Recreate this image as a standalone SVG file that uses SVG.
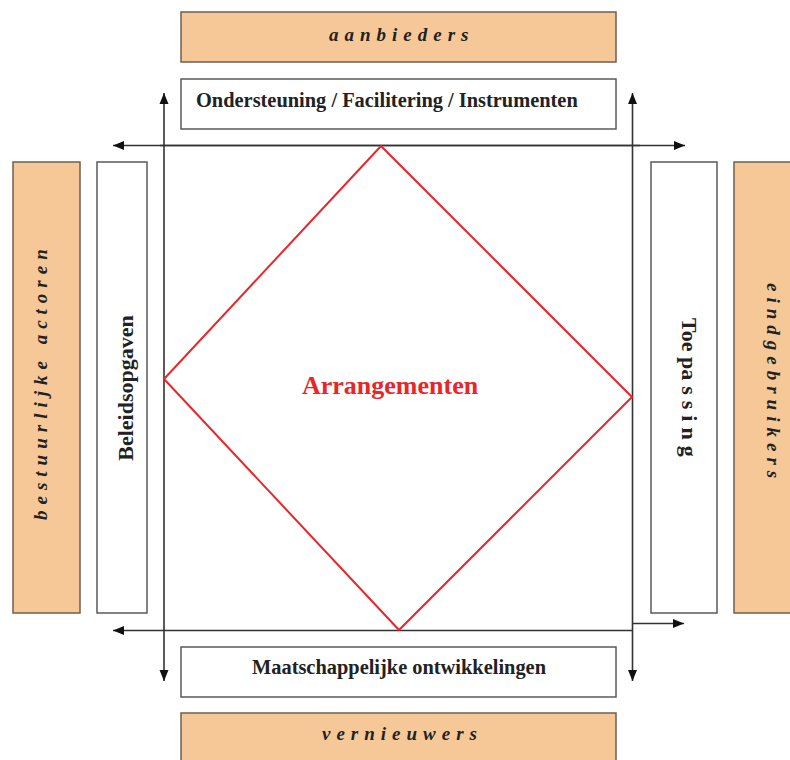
<svg xmlns="http://www.w3.org/2000/svg" width="790" height="760" viewBox="0 0 790 760">
<style>
.org{fill:#f7c897;stroke:#6e5f50;stroke-width:1.5}
.wht{fill:#ffffff;stroke:#5a5a5a;stroke-width:1.5}
.lbl{font-family:"Liberation Serif","Times New Roman",serif;font-weight:bold;font-style:italic;font-size:19px;letter-spacing:6px;fill:#222}
.box{font-family:"Liberation Serif","Times New Roman",serif;font-weight:bold;font-size:20.4px;fill:#222}
.vbox{font-family:"Liberation Serif","Times New Roman",serif;font-weight:bold;font-size:22px;fill:#222}
.ln{fill:none;stroke:#333;stroke-width:1.6}
.dia{fill:none;stroke:#e8262a;stroke-width:2}
.red{font-family:"Liberation Serif","Times New Roman",serif;font-weight:bold;font-size:26px;fill:#e8262a}
</style>
<defs>
<marker id="ah" markerWidth="12" markerHeight="10" refX="11" refY="5" orient="auto" markerUnits="userSpaceOnUse">
<path d="M0,0.5 L11,5 L0,9.5 Z" fill="#111"/>
</marker>
</defs>
<rect width="790" height="760" fill="#ffffff"/>
<g id="aanbieders">
<rect class="org" x="181" y="12" width="435" height="50"/>
<text class="lbl" x="329" y="41">aanbieders</text>
</g>
<g id="ondersteuning">
<rect class="wht" x="181" y="79" width="435" height="50"/>
<text class="box" x="196" y="107">Ondersteuning / Facilitering / Instrumenten</text>
</g>
<g id="maatschappelijke">
<rect class="wht" x="181" y="647" width="435" height="50"/>
<text class="box" x="252" y="674">Maatschappelijke ontwikkelingen</text>
</g>
<g id="vernieuwers">
<rect class="org" x="181" y="713" width="435" height="62"/>
<text class="lbl" x="322" y="740">vernieuwers</text>
</g>
<g id="bestuurlijke">
<rect class="org" x="13" y="162" width="67" height="451"/>
<text class="lbl" transform="translate(47,520) rotate(-90)" x="0" y="0">bestuurlijke actoren</text>
</g>
<g id="beleidsopgaven">
<rect class="wht" x="97" y="162" width="50" height="451"/>
<text class="vbox" text-anchor="middle" transform="translate(133,388) rotate(-90)" x="0" y="0">Beleidsopgaven</text>
</g>
<g id="toepassing">
<rect class="wht" x="651" y="162" width="66" height="451"/>
<text class="vbox" transform="translate(682,318) rotate(90)" x="0" y="0">Toe p<tspan letter-spacing="6">assing</tspan></text>
</g>
<g id="eindgebruikers">
<rect class="org" x="734" y="162" width="70" height="451"/>
<text class="lbl" transform="translate(767,283) rotate(90)" x="0" y="0" letter-spacing="7">eindgebruikers</text>
</g>
<g id="connectors">
<line class="ln" x1="160" y1="145.5" x2="685" y2="145.5" marker-end="url(#ah)"/>
<line class="ln" x1="640" y1="145.5" x2="113" y2="145.5" marker-end="url(#ah)"/>
<line class="ln" x1="632.5" y1="630.5" x2="113" y2="630.5" marker-end="url(#ah)"/>
<line class="ln" x1="632.5" y1="623.5" x2="684" y2="623.5" marker-end="url(#ah)"/>
<line class="ln" x1="164" y1="380" x2="164" y2="93" marker-end="url(#ah)"/>
<line class="ln" x1="164" y1="380" x2="164" y2="681" marker-end="url(#ah)"/>
<line class="ln" x1="632.5" y1="397" x2="632.5" y2="93" marker-end="url(#ah)"/>
<line class="ln" x1="632.5" y1="397" x2="632.5" y2="681" marker-end="url(#ah)"/>
</g>
<g id="arrangementen">
<polygon class="dia" points="381,146 632,397 399,630 164,379"/>
<text class="red" x="302" y="394">Arrangementen</text>
</g>
</svg>
